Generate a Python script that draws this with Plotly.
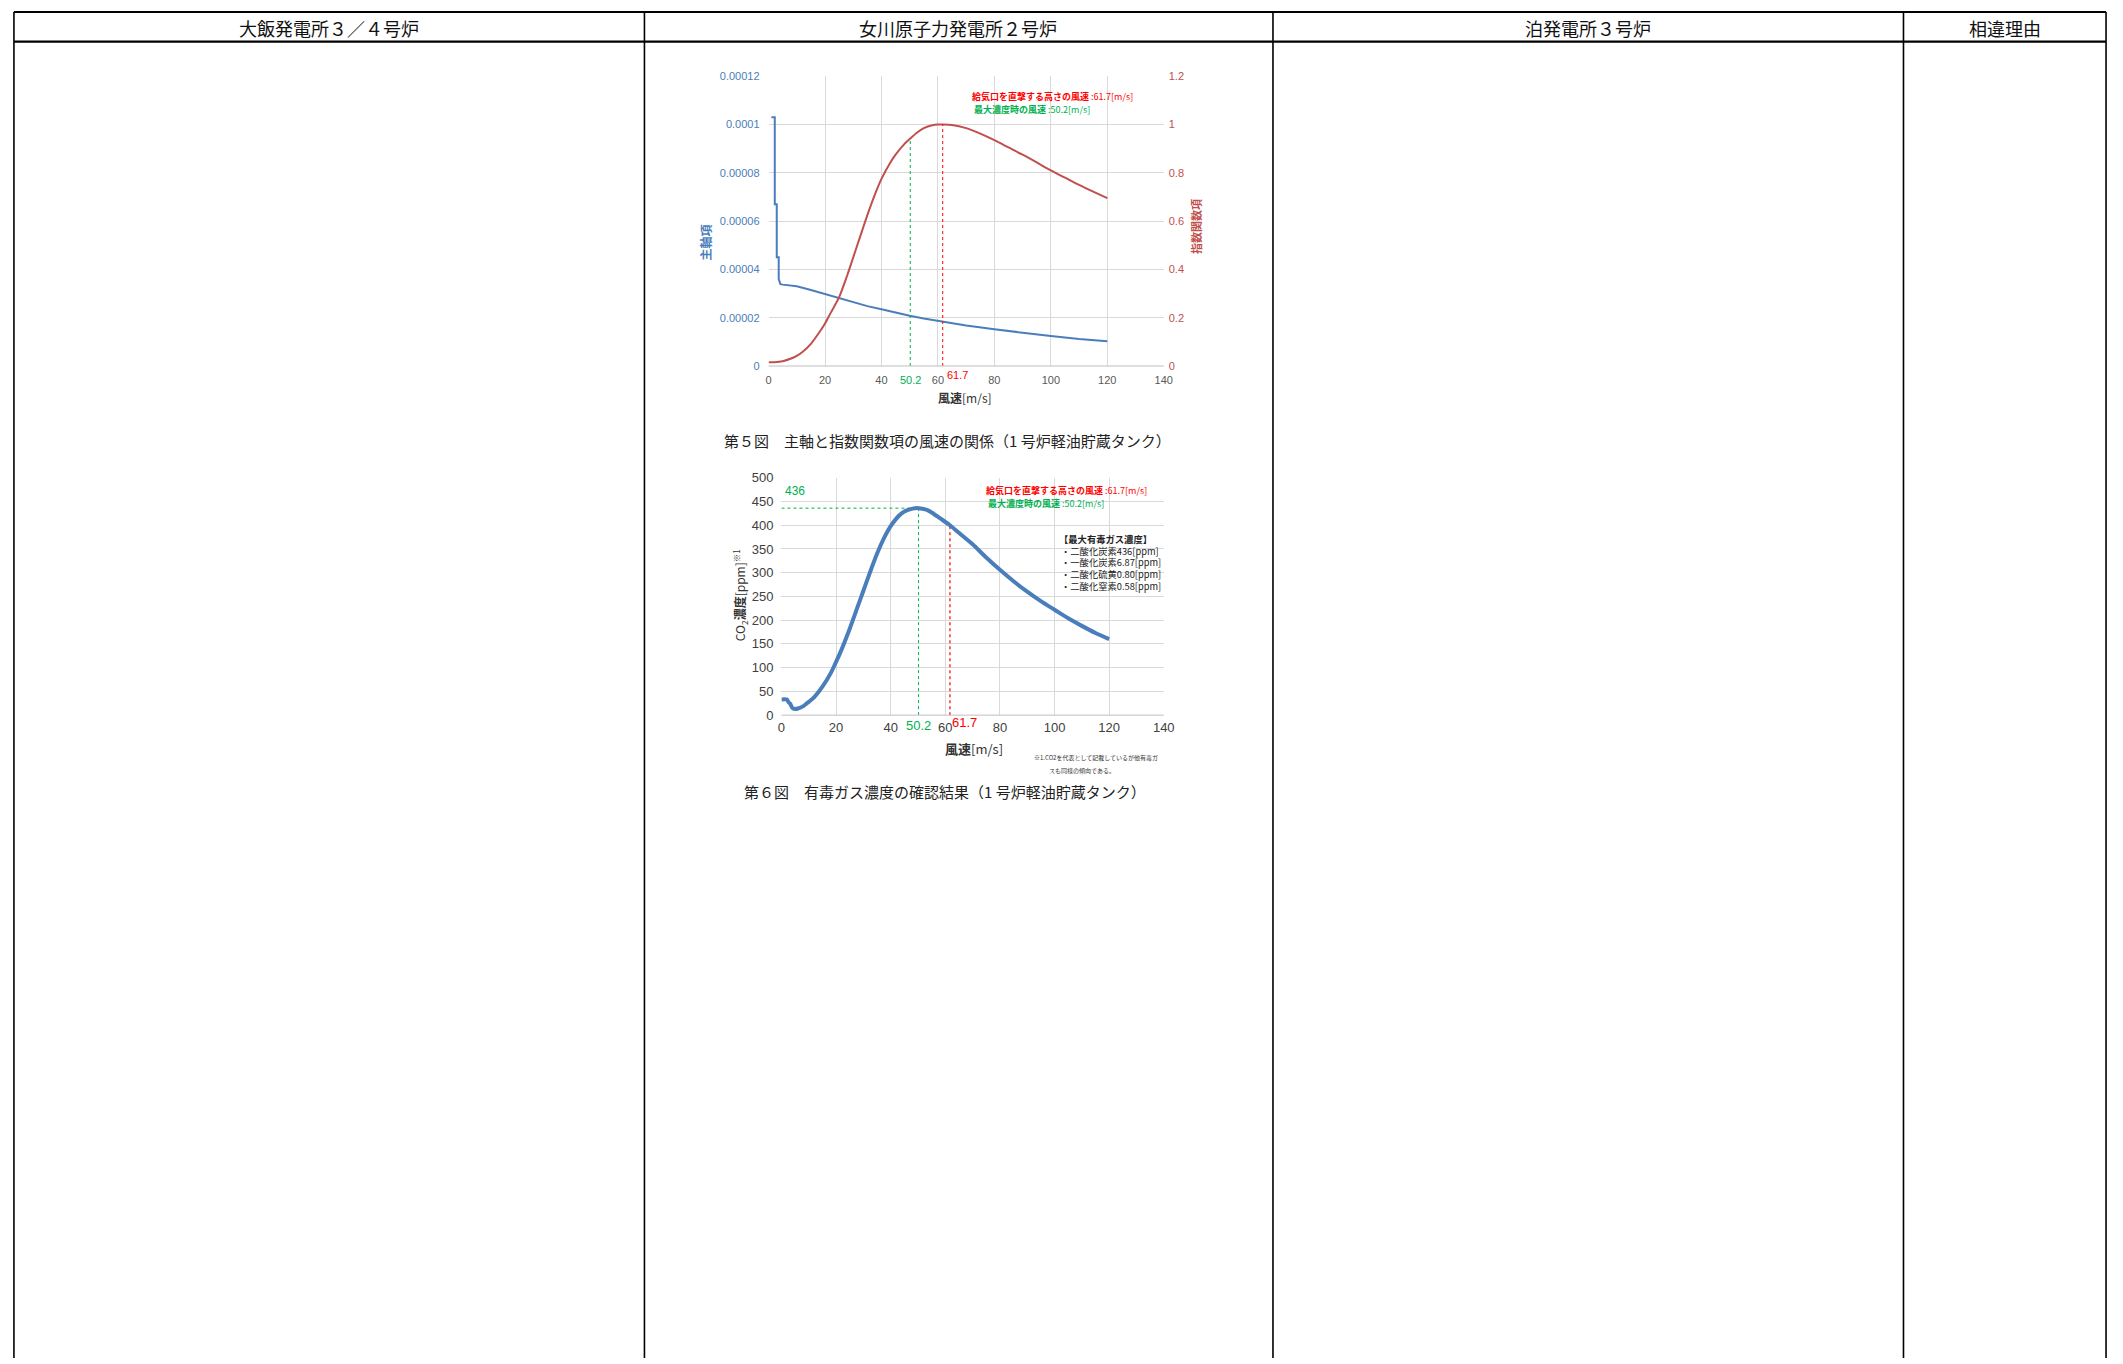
import plotly.graph_objects as go

# ---------------- data ----------------
header_labels = ["大飯発電所３／４号炉", "女川原子力発電所２号炉", "泊発電所３号炉", "相違理由"]

# Fig.5 : main-axis term (left axis) vs wind speed
wind_main = [1, 2.2, 2.2, 2.9, 2.9, 3.6, 3.6, 4.2, 5, 10, 15, 20, 25, 30, 35, 40, 45, 50,
             55, 60, 65, 70, 80, 90, 100, 110, 120]
main_term = [1.03e-4, 1.03e-4, 6.7e-5, 6.7e-5, 4.5e-5, 4.5e-5, 3.6e-5, 3.39e-5, 3.37e-5,
             3.3e-5, 3.15e-5, 2.98e-5, 2.8e-5, 2.62e-5, 2.48e-5, 2.35e-5, 2.2e-5, 2.08e-5,
             1.97e-5, 1.87e-5, 1.77e-5, 1.68e-5, 1.52e-5, 1.37e-5, 1.24e-5, 1.12e-5, 1.03e-5]

# Fig.5 : exponential term (right axis) vs wind speed
wind_exp = [0, 2, 5, 8, 10, 12, 15, 18, 20, 22, 25, 28, 30, 32, 35, 38, 40, 43, 45, 48, 50,
            53, 55, 58, 60, 61.7, 65, 70, 75, 80, 85, 90, 95, 100, 105, 110, 115, 120]
exp_term = [0.016, 0.016, 0.02, 0.031, 0.042, 0.058, 0.092, 0.14, 0.176, 0.22, 0.285, 0.38,
            0.45, 0.52, 0.625, 0.72, 0.775, 0.84, 0.875, 0.918, 0.94, 0.97, 0.985, 0.997, 1.0,
            1.0, 0.998, 0.985, 0.962, 0.935, 0.905, 0.875, 0.843, 0.81, 0.78, 0.75, 0.722, 0.695]

# Fig.6 : CO2 concentration vs wind speed
wind_conc = [0, 2, 2.6, 3.2, 4, 5, 6, 8, 10, 12, 15, 18, 20, 22, 25, 28, 30, 33, 35, 38, 40,
             43, 45, 48, 50.2, 53, 55, 58, 61.7, 65, 70, 75, 80, 85, 90, 95, 100, 105, 110,
             115, 120]
co2_conc = [33, 33, 27, 24, 15, 13, 14, 19, 28, 38, 60, 88, 112, 138, 182, 230, 262, 310, 340,
            378, 398, 420, 429, 435, 436, 433, 427, 415, 400, 384, 360, 332, 306, 282, 260,
            240, 222, 204, 188, 173, 160]

v_inlet = 61.7          # wind speed hitting intake height
v_max = 50.2            # wind speed at maximum concentration
c_max = 436             # maximum concentration
exp_at_vmax = 0.935
exp_at_inlet = 1.0
conc_at_inlet = 400

x_ticks = [0, 20, 40, 60, 80, 100, 120, 140]
main_ticks = [0, 0.00002, 0.00004, 0.00006, 0.00008, 0.0001, 0.00012]
main_tick_text = ["0", "0.00002", "0.00004", "0.00006", "0.00008", "0.0001", "0.00012"]
exp_ticks = [0, 0.2, 0.4, 0.6, 0.8, 1.0, 1.2]
exp_tick_text = ["0", "0.2", "0.4", "0.6", "0.8", "1", "1.2"]
conc_ticks = [0, 50, 100, 150, 200, 250, 300, 350, 400, 450, 500]

gas_lines = ["【最大有毒ガス濃度】", "・二酸化炭素436[ppm]", "・一酸化炭素6.87[ppm]",
             "・二酸化硫黄0.80[ppm]", "・二酸化窒素0.58[ppm]"]

note_inlet = "給気口を直撃する高さの風速 :61.7[m/s]"
note_max = "最大濃度時の風速 :50.2[m/s]"
caption5 = "第５図　主軸と指数関数項の風速の関係（1 号炉軽油貯蔵タンク）"
caption6 = "第６図　有毒ガス濃度の確認結果（1 号炉軽油貯蔵タンク）"
footnote = ["※1.CO2を代表として記載しているが他有毒ガ", "スも同様の傾向である。"]

# ---------------- layout helpers ----------------
W, H = 2123, 1364
def fx(p):
    return p / W
def fy(p):
    return 1 - p / H

JP = "Noto Sans CJK JP"
NUM = "Liberation Sans, Arial"
BLUE = "#4a7ebb"
RED_LINE = "#c0504d"
RED = "#ff0000"
GREEN = "#00b050"
GRID = "#d9d9d9"

fig = go.Figure()

# Fig.5 traces
fig.add_trace(go.Scatter(x=wind_main, y=main_term, mode="lines", xaxis="x", yaxis="y",
                         line=dict(color=BLUE, width=2), showlegend=False))
fig.add_trace(go.Scatter(x=wind_exp, y=exp_term, mode="lines", xaxis="x", yaxis="y2",
                         line=dict(color=RED_LINE, width=2, shape="spline", smoothing=0.8),
                         showlegend=False))
fig.add_trace(go.Scatter(x=[v_max, v_max], y=[0, exp_at_vmax], mode="lines", xaxis="x", yaxis="y2",
                         line=dict(color=GREEN, width=1, dash="dot"), showlegend=False))
fig.add_trace(go.Scatter(x=[v_inlet, v_inlet], y=[0, exp_at_inlet], mode="lines", xaxis="x", yaxis="y2",
                         line=dict(color=RED, width=1, dash="dot"), showlegend=False))

# Fig.6 traces
fig.add_trace(go.Scatter(x=[v_max, v_max], y=[0, c_max], mode="lines", xaxis="x2", yaxis="y3",
                         line=dict(color=GREEN, width=1, dash="dot"), showlegend=False))
fig.add_trace(go.Scatter(x=[0, v_max], y=[c_max, c_max], mode="lines", xaxis="x2", yaxis="y3",
                         line=dict(color=GREEN, width=1, dash="dot"), showlegend=False))
fig.add_trace(go.Scatter(x=[v_inlet, v_inlet], y=[0, conc_at_inlet], mode="lines", xaxis="x2", yaxis="y3",
                         line=dict(color=RED, width=1.2, dash="dot"), showlegend=False))
fig.add_trace(go.Scatter(x=wind_conc, y=co2_conc, mode="lines", xaxis="x2", yaxis="y3",
                         line=dict(color=BLUE, width=4, shape="spline", smoothing=0.7),
                         showlegend=False))

axis_common = dict(showgrid=True, gridcolor=GRID, gridwidth=1, zeroline=False, ticks="",
                   showline=False)

fig.update_layout(
    autosize=True, margin=dict(l=0, r=0, t=0, b=0),
    paper_bgcolor="white", plot_bgcolor="white",
    xaxis=dict(domain=[fx(770), fx(1168)], range=[0, 140], tickvals=x_ticks, anchor="y",
               tickfont=dict(family=NUM, size=11, color="#595959"), ticklabelstandoff=6,
               **axis_common),
    yaxis=dict(domain=[fy(363), fy(70)], range=[0, 0.00012], tickvals=main_ticks,
               ticktext=main_tick_text, anchor="x",
               tickfont=dict(family=NUM, size=11, color=BLUE), ticklabelstandoff=8,
               **axis_common),
    yaxis2=dict(overlaying="y", side="right", range=[0, 1.2], tickvals=exp_ticks,
                ticktext=exp_tick_text, anchor="x", showgrid=False, zeroline=False, ticks="",
                tickfont=dict(family=NUM, size=11, color=RED_LINE), ticklabelstandoff=4),
    xaxis2=dict(domain=[fx(783), fx(1168)], range=[0, 140], tickvals=x_ticks, anchor="y3",
                tickfont=dict(family=NUM, size=13, color="#404040"), ticklabelstandoff=3,
                **axis_common),
    yaxis3=dict(domain=[fy(716), fy(476)], range=[0, 500], tickvals=conc_ticks, anchor="x2",
                tickfont=dict(family=NUM, size=13, color="#404040"), ticklabelstandoff=7,
                **axis_common),
)

shapes = []
def line(x0, y0, x1, y1, w=1.5, c="black"):
    shapes.append(dict(type="line", xref="paper", yref="paper", x0=fx(x0), y0=fy(y0),
                       x1=fx(x1), y1=fy(y1), line=dict(color=c, width=w)))

# table frame
line(10, 5, 2117, 5, 2)
line(10, 35, 2117, 35, 2.2)
for xv in [10, 645, 1278, 1913, 2117]:
    line(xv, 5, xv, H + 2, 1.6)
# plot bottom axis lines
line(770, 363, 1168, 363, 1, "#bfbfbf")
line(783, 716, 1168, 716, 1, "#bfbfbf")
fig.update_layout(shapes=shapes)

ann = []
def text(x, y, s, size, color="black", family=JP, xanchor="center", angle=0, yanchor="middle"):
    ann.append(dict(xref="paper", yref="paper", x=fx(x), y=fy(y), text=s, showarrow=False,
                    font=dict(family=family, size=size, color=color), xanchor=xanchor,
                    yanchor=yanchor, textangle=angle))

# header
for label, cx in zip(header_labels, [327, 961, 1595, 2015]):
    text(cx, 21, label, 18, "#111111")

# Fig.5 texts
text(706, 238, "<b>主軸項</b>", 12, BLUE, angle=-90)
text(1200, 222, "<b>指数関数項</b>", 11, RED_LINE, angle=-90)
text(968, 395, "<b>風速</b>[m/s]", 12, "#333333")
text(973, 90, "<b>給気口を直撃する高さの風速</b> :61.7[m/s]", 9, RED, xanchor="left")
text(975, 104, "<b>最大濃度時の風速</b> :50.2[m/s]", 9, GREEN, xanchor="left")
text(950, 438, caption5, 15, "#222222")

# tick-level special labels (data coordinates)
ann.append(dict(xref="x", yref="paper", x=v_max, y=fy(377), text=str(v_max), showarrow=False,
                yanchor="middle", font=dict(family=NUM, size=11, color=GREEN)))
ann.append(dict(xref="x", yref="paper", x=v_inlet, y=fy(372), text=str(v_inlet), showarrow=False,
                yanchor="middle", xshift=15, font=dict(family=NUM, size=11, color=RED)))

# Fig.6 texts
ann.append(dict(xref="x2", yref="y3", x=0, y=c_max, text=str(c_max), showarrow=False,
                xanchor="left", yanchor="middle", xshift=2, yshift=17,
                font=dict(family=NUM, size=12, color=GREEN)))
text(987, 489, "<b>給気口を直撃する高さの風速</b> :61.7[m/s]", 9, RED, xanchor="left")
text(989, 502, "<b>最大濃度時の風速</b> :50.2[m/s]", 9, GREEN, xanchor="left")
for i, g in enumerate(gas_lines):
    text(1060 if i == 0 else 1063, 538 + i * 11.8, "<b>" + g + "</b>" if i == 0 else g, 9.3,
         "#222222", xanchor="left")
text(742, 595, "CO<sub>2</sub><b>濃度</b>[ppm]<sup>※1</sup>", 12, "#333333", angle=-90)
text(977, 750, "<b>風速</b>[m/s]", 13, "#333333")
ann.append(dict(xref="x2", yref="paper", x=v_max, y=fy(726), text=str(v_max), showarrow=False,
                yanchor="middle", font=dict(family=NUM, size=13, color=GREEN)))
ann.append(dict(xref="x2", yref="paper", x=v_inlet, y=fy(723), text=str(v_inlet), showarrow=False,
                yanchor="middle", xshift=15, font=dict(family=NUM, size=13, color=RED)))
text(1035, 759, footnote[0], 6, "#333333", xanchor="left")
text(1050, 772, footnote[1], 6, "#333333", xanchor="left")
text(948, 793, caption6, 15, "#222222")

fig.update_layout(annotations=ann)

fig.write_html(
    "out.html", config={"displayModeBar": False, "responsive": True},
    default_width="100vw", default_height="100vh",
    post_script=("document.documentElement.style.margin='0';document.body.style.margin='0';"
                 "document.body.style.overflow='hidden';"
                 "var d=document.getElementById('{plot_id}');"
                 "d.style.position='fixed';d.style.left='0px';d.style.top='0px';"
                 "d.style.width='100vw';d.style.height='100vh';"
                 "window.dispatchEvent(new Event('resize'));"))
